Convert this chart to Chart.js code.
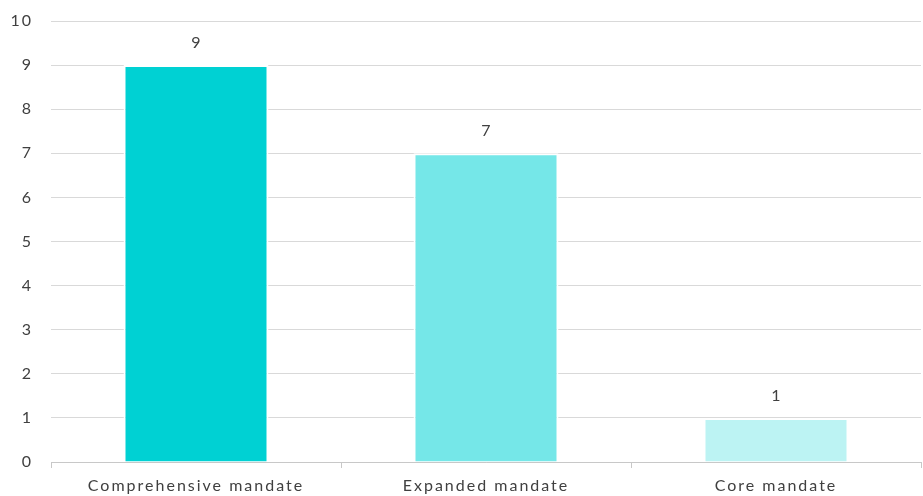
<!DOCTYPE html>
<html>
<head>
<meta charset="utf-8">
<script src="https://cdn.jsdelivr.net/npm/chart.js@4"></script>
<style>
  html, body { margin: 0; padding: 0; background: #fff; }
  #wrap { width: 923px; height: 496px; }
</style>
</head>
<body>
<div id="wrap"><canvas id="mainChart"></canvas></div>
<script>
// Mandate counts
const categories = ['Comprehensive mandate', 'Expanded mandate', 'Core mandate'];
const counts = [9, 7, 1];
const barColors = ['#00D1D3', '#75E7E8', '#BCF3F3'];

const textColor = '#404040';
const gridColor = '#D9D9D9';
const fontFamily = 'Lato, "Open Sans", sans-serif';

// Spread glyphs a bit, like the office chart font
const spacing = {
    id: 'spacing',
    beforeUpdate(chart) { chart.ctx.letterSpacing = '2px'; },
    beforeDraw(chart) { chart.ctx.letterSpacing = '2px'; }
};

// Value labels above each bar
const valueLabels = {
    id: 'valueLabels',
    afterDatasetsDraw(chart) {
        const ctx = chart.ctx;
        const meta = chart.getDatasetMeta(0);
        ctx.save();
        ctx.font = '16px ' + fontFamily;
        ctx.fillStyle = textColor;
        ctx.textAlign = 'center';
        ctx.textBaseline = 'bottom';
        meta.data.forEach((bar, i) => {
            ctx.fillText(String(counts[i]), bar.x + 1, bar.y - 14);
        });
        ctx.restore();
    }
};

const ctx = document.getElementById('mainChart').getContext('2d');
new Chart(ctx, {
    type: 'bar',
    data: {
        labels: categories,
        datasets: [{
            data: counts,
            backgroundColor: barColors,
            borderColor: '#FFFFFF',
            borderWidth: 2,
            borderSkipped: 'bottom',
            barPercentage: 0.5,
            categoryPercentage: 1
        }]
    },
    options: {
        responsive: true,
        maintainAspectRatio: false,
        animation: false,
        layout: { padding: { top: 21, right: 2, left: 0, bottom: 0 } },
        plugins: {
            legend: { display: false },
            tooltip: { enabled: false }
        },
        scales: {
            x: {
                afterFit(scale) {
                    scale.height = 34;
                    scale.paddingLeft = 0;
                    scale.paddingRight = 0;
                },
                grid: {
                    drawOnChartArea: false,
                    offset: true,
                    tickLength: 6,
                    color: '#C8C8C8'
                },
                border: { color: '#C8C8C8' },
                ticks: {
                    color: textColor,
                    font: { family: fontFamily, size: 16 },
                    padding: 8
                }
            },
            y: {
                min: 0,
                max: 10,
                afterFit(scale) {
                    scale.width = 51;
                    scale.paddingTop = 0;
                    scale.paddingBottom = 0;
                },
                grid: { color: gridColor, drawTicks: false },
                border: { display: false },
                ticks: {
                    stepSize: 1,
                    color: textColor,
                    font: { family: fontFamily, size: 16 },
                    padding: 18
                }
            }
        }
    },
    plugins: [spacing, valueLabels]
});
</script>
</body>
</html>
